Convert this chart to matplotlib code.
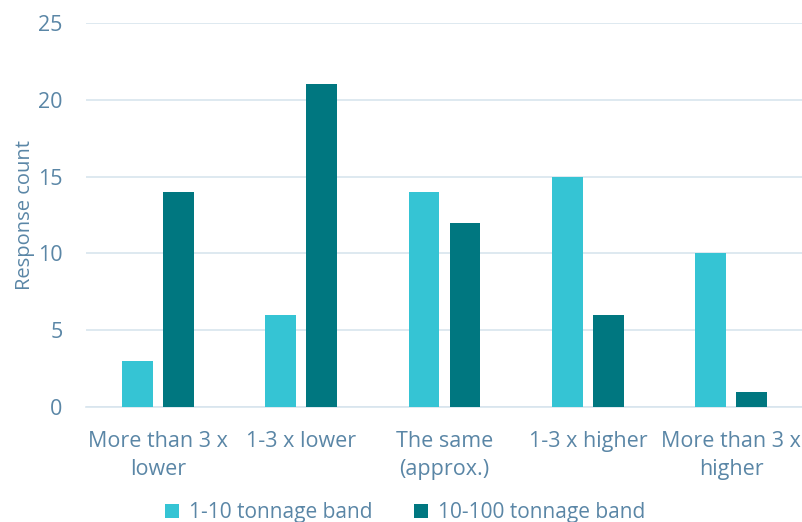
import matplotlib
matplotlib.use("Agg")
import matplotlib.pyplot as plt
import numpy as np

categories = ["More than 3 x\nlower", "1-3 x lower", "The same\n(approx.)", "1-3 x higher", "More than 3 x\nhigher"]
band_1_10 = [3, 6, 14, 15, 10]
band_10_100 = [14, 21, 12, 6, 1]
series_names = ["1-10 tonnage band", "10-100 tonnage band"]
y_ticks = [0, 5, 10, 15, 20, 25]

light = "#35C4D4"
dark = "#007780"
text_col = "#5A86A6"
grid_col = "#D8E5EE"

plt.rcParams["font.family"] = ["Open Sans", "DejaVu Sans"]

fig = plt.figure(figsize=(8.03, 5.22), dpi=100)
ax = fig.add_axes([86 / 803, 1 - 407 / 522, (803 - 86) / 803, (407 - 23) / 522])

x = np.arange(len(categories))
w = 0.216
off = 0.143
ax.bar(x - off, band_1_10, width=w, color=light, label=series_names[0], zorder=3)
ax.bar(x + off, band_10_100, width=w, color=dark, label=series_names[1], zorder=3)

ax.set_xlim(-0.5, len(categories) - 0.5)
ax.set_ylim(0, 25)
ax.set_yticks(y_ticks)
ax.yaxis.grid(True, color=grid_col, linewidth=1.2, zorder=0)
ax.set_axisbelow(True)
for s in ["top", "right", "left"]:
    ax.spines[s].set_visible(False)
ax.spines["bottom"].set_color(grid_col)
ax.spines["bottom"].set_linewidth(1.2)

ax.set_xticks(x)
ax.set_xticklabels(categories, fontsize=15.5, color=text_col, linespacing=1.45)
ax.tick_params(axis="x", length=0, pad=17)
ax.tick_params(axis="y", length=0, pad=17, labelsize=15.5, labelcolor=text_col)
ax.set_ylabel("Response count", fontsize=14.5, color=text_col, labelpad=2)

leg = fig.legend(loc="lower center", bbox_to_anchor=(0.505, -0.038), ncol=2, frameon=False,
                 fontsize=15, handlelength=0.65, handleheight=0.65, handletextpad=0.5,
                 columnspacing=2.0)
for t in leg.get_texts():
    t.set_color(text_col)

fig.savefig("out.png", dpi=100)
